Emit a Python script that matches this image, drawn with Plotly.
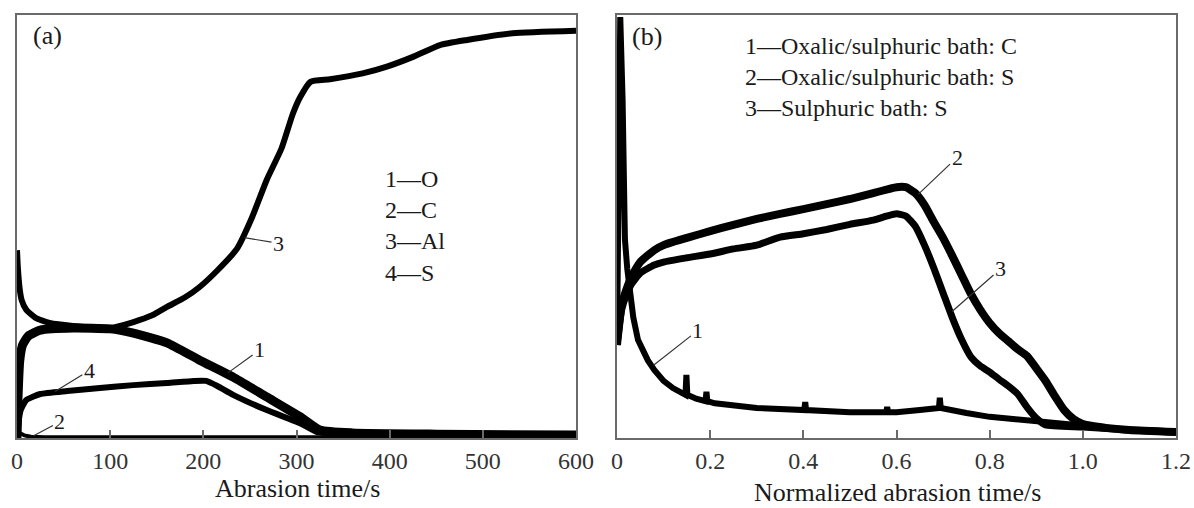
import numpy as np
import plotly.graph_objects as go

# ---------------- data: panel (a) ----------------
a_al_t = [0, 1, 3, 5, 10, 20, 35, 60, 100, 125, 145, 161, 180, 196, 215, 236, 252, 268, 284, 296, 304, 315,
          336, 371, 397, 425, 454, 483, 532, 600]
a_al_y = [44.4, 40.0, 35.0, 32.6, 30.3, 28.4, 27.2, 26.5, 26.0, 27.4, 29.0, 31.0, 33.2, 35.7, 39.6, 44.7, 52.0,
          61.0, 68.5, 76.6, 80.6, 84.2, 84.8, 86.2, 87.8, 90.1, 92.9, 94.1, 95.7, 96.3]

a_o_t = [0, 1, 3, 6, 12, 25, 60, 100, 125, 161, 196, 232, 268, 304, 325, 360, 450, 600]
a_o_y = [0, 9.0, 18.4, 22.0, 24.1, 25.5, 26.0, 25.8, 24.8, 22.5, 18.4, 14.4, 9.7, 5.0, 1.9, 1.2, 0.9, 0.7]

a_s_t = [0, 2, 4, 10, 25, 54, 89, 125, 161, 190, 203, 215, 232, 268, 304, 322, 360, 600]
a_s_y = [0.2, 4.3, 6.6, 9.0, 10.4, 11.1, 11.8, 12.5, 13.0, 13.5, 13.5, 12.3, 10.2, 6.6, 3.5, 1.4, 0.9, 0.6]

a_c_t = [0, 3, 8, 15, 30, 100, 200, 300, 600]
a_c_y = [1.9, 1.2, 0.6, 0.3, 0.2, 0.2, 0.2, 0.2, 0.2]

a_ticks = [0, 100, 200, 300, 400, 500, 600]
a_legend = ["1\u2014O", "2\u2014C", "3\u2014Al", "4\u2014S"]

# ---------------- data: panel (b) ----------------
b1_x = [0, 0.004, 0.007, 0.012, 0.017, 0.022, 0.028, 0.035, 0.045, 0.055, 0.066, 0.08, 0.1, 0.12,
        0.147, 0.149, 0.151, 0.17, 0.19, 0.192, 0.194, 0.21, 0.25, 0.3, 0.402, 0.404, 0.406, 0.5,
        0.578, 0.58, 0.582, 0.6, 0.65, 0.691, 0.693, 0.695, 0.75, 0.8, 0.85, 0.9, 0.95, 1.0, 1.05, 1.1, 1.2]
b1_y = [22.0, 70.0, 99.5, 80.0, 47.0, 40.0, 35.0, 28.5, 23.2, 20.8, 18.4, 16.1, 13.5, 11.8,
        10.2, 14.9, 10.2, 9.3, 8.7, 10.9, 8.7, 8.2, 7.6, 7.1, 6.6, 8.5, 6.6, 6.1,
        6.1, 7.3, 6.1, 6.1, 6.6, 7.1, 9.5, 7.1, 5.9, 5.0, 4.5, 4.0, 3.3, 2.8, 2.4, 1.9, 1.4]

b2_x = [0, 0.01, 0.02, 0.03, 0.05, 0.08, 0.1, 0.15, 0.2, 0.25, 0.3, 0.35, 0.4, 0.45, 0.5, 0.55, 0.6, 0.62,
        0.64, 0.66, 0.68, 0.7, 0.72, 0.74, 0.76, 0.78, 0.8, 0.82, 0.84, 0.86, 0.88, 0.9, 0.92, 0.94, 0.96,
        0.98, 1.0, 1.05, 1.1, 1.2]
b2_y = [22.0, 31.4, 35.0, 37.8, 41.6, 44.4, 45.6, 47.3, 48.9, 50.4, 51.8, 53.0, 54.1, 55.3, 56.5, 57.9, 59.3,
        59.3, 57.9, 55.1, 51.1, 47.3, 43.0, 38.5, 34.0, 30.3, 27.2, 24.8, 22.9, 21.0, 19.4, 16.5, 13.5, 9.9,
        6.6, 4.5, 3.3, 2.4, 1.9, 1.4]

b3_x = [0, 0.01, 0.02, 0.03, 0.05, 0.08, 0.1, 0.15, 0.2, 0.25, 0.3, 0.35, 0.4, 0.45, 0.5, 0.55, 0.58, 0.6,
        0.62, 0.64, 0.66, 0.68, 0.7, 0.72, 0.74, 0.76, 0.78, 0.8, 0.82, 0.84, 0.86, 0.88, 0.9, 0.92, 1.0,
        1.1, 1.2]
b3_y = [22.0, 30.3, 33.8, 36.2, 39.0, 40.9, 41.6, 42.6, 43.5, 44.7, 45.6, 47.5, 48.3, 49.3, 50.5, 51.5, 52.5,
        53.0, 52.5, 50.1, 45.6, 40.2, 34.3, 28.4, 23.2, 19.1, 17.0, 15.6, 13.9, 12.3, 10.4, 7.3, 4.7, 3.1,
        2.6, 1.9, 1.4]

b_ticks = [0, 0.2, 0.4, 0.6, 0.8, 1.0, 1.2]
b_ticktext = ["0", "0.2", "0.4", "0.6", "0.8", "1.0", "1.2"]
b_legend = ["1\u2014Oxalic/sulphuric bath: C", "2\u2014Oxalic/sulphuric bath: S", "3\u2014Sulphuric bath: S"]

# ---------------- figure ----------------
W, H = 1194, 508
TOP, BOT = 15, 438            # plot-area top / bottom in pixels
FONT = "Liberation Serif"
INK = "#1a1a1a"
FRAME = "#6a6a6a"

fig = go.Figure()

def line(x, y, w, xa="x", ya="y", shape="linear"):
    fig.add_trace(go.Scatter(x=x, y=y, mode="lines", xaxis=xa, yaxis=ya,
                             line=dict(color="black", width=w, shape=shape, smoothing=0.5),
                             showlegend=False, hoverinfo="skip"))

line(a_o_t, a_o_y, 9, shape="spline")
line(a_al_t, a_al_y, 6, shape="spline")
line(a_s_t, a_s_y, 6, shape="spline")
line(a_c_t, a_c_y, 4)

line(b1_x, b1_y, 6, "x2", "y2")
line(b2_x, b2_y, 8, "x2", "y2", shape="spline")
line(b3_x, b3_y, 7, "x2", "y2", shape="spline")

axis_common = dict(showline=True, linecolor=FRAME, linewidth=2, mirror=True, showgrid=False,
                   zeroline=False)
xa_common = dict(axis_common, ticks="inside", ticklen=8, tickwidth=1.5, tickcolor=FRAME,
                 tickfont=dict(family=FONT, size=24, color="#333"))
ya_common = dict(axis_common, showticklabels=False, ticks="", range=[0, 100])

fig.update_layout(
    width=W, height=H, paper_bgcolor="white", plot_bgcolor="white",
    margin=dict(l=0, r=0, t=TOP, b=H - BOT, autoexpand=False),
    xaxis=dict(xa_common, domain=[17 / W, 576 / W], range=[0, 600], tickvals=a_ticks, anchor="y"),
    yaxis=dict(ya_common, domain=[0, 1], anchor="x"),
    xaxis2=dict(xa_common, domain=[617 / W, 1176 / W], range=[0, 1.2], tickvals=b_ticks,
                ticktext=b_ticktext, anchor="y2"),
    yaxis2=dict(ya_common, domain=[0, 1], anchor="x2"),
    showlegend=False,
)

ann = []

def txt(x, y, s, size=26, xanchor="center"):
    # x, y are pixel positions on the page; paper coords span the plot area
    ann.append(dict(x=x / W, y=(BOT - y) / (BOT - TOP), xref="paper", yref="paper", text=s,
                    showarrow=False, xanchor=xanchor, yanchor="middle", align="left",
                    font=dict(family=FONT, size=size, color=INK)))

# axis titles and panel tags
txt(297, 488, "Abrasion time/s")
txt(897, 492, "Normalized abrasion time/s")
txt(47, 36, "(a)")
txt(647, 37, "(b)")

# legends as text blocks
txt(383, 180 + 30.7 * 1.5, "<br>".join(a_legend), size=24, xanchor="left")
txt(743, 46 + 30.5, "<br>".join(b_legend), size=24, xanchor="left")

# curve labels with leader lines, anchored on the curves
def label(xs, ys, xv, s, ax, ay, xa="x", ya="y"):
    yv = float(np.interp(xv, xs, ys))
    ann.append(dict(x=xv, y=yv, xref=xa, yref=ya, text=s, showarrow=True, arrowhead=0,
                    arrowwidth=1.2, arrowcolor="#333", ax=ax, ay=ay, standoff=2,
                    font=dict(family=FONT, size=22, color=INK)))

label(a_o_t, a_o_y, 225, "1", 33, -24)
label(a_c_t, a_c_y, 16, "2", 28, -15)
label(a_al_t, a_al_y, 242, "3", 36, 6)
label(a_s_t, a_s_y, 39, "4", 36, -22)

label(b1_x, b1_y, 0.075, "1", 46, -36, "x2", "y2")
label(b2_x, b2_y, 0.644, "2", 40, -38, "x2", "y2")
label(b3_x, b3_y, 0.716, "3", 50, -44, "x2", "y2")

fig.update_layout(annotations=ann)

fig.write_html("out.html", config={"displayModeBar": False},
               post_script="document.body.style.margin='0';")
